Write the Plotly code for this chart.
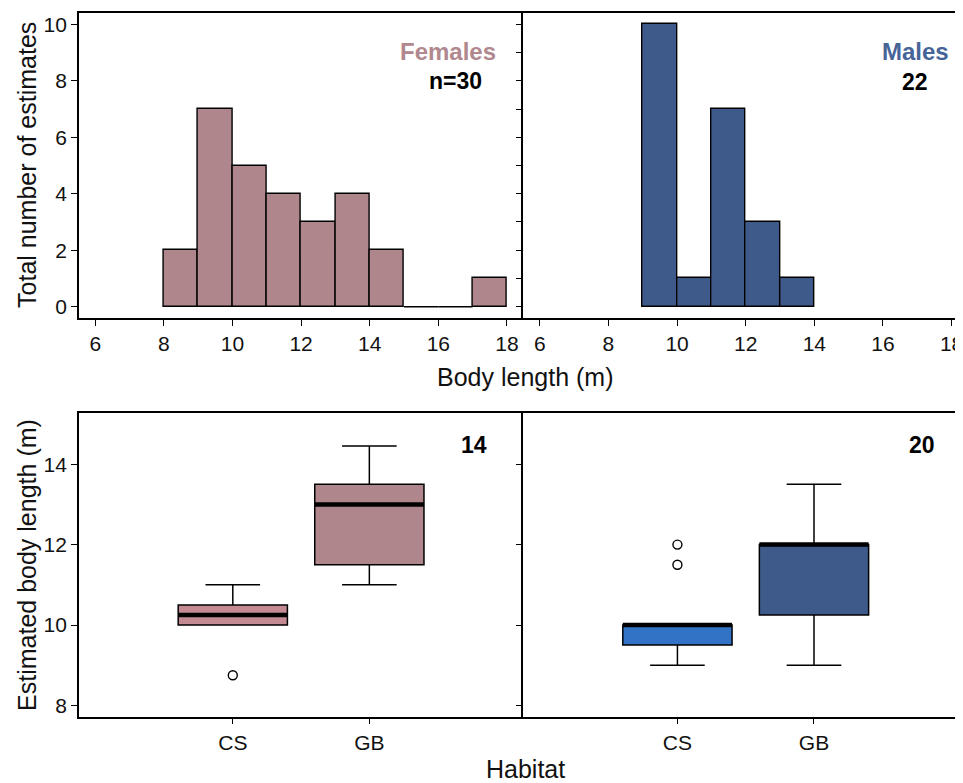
import plotly.graph_objects as go

# ---------------- data ----------------
bin_edges = [8, 9, 10, 11, 12, 13, 14, 15, 16, 17, 18]
female_counts = [2, 7, 5, 4, 3, 4, 2, 0, 0, 1]
male_counts = [0, 10, 1, 7, 3, 1, 0, 0, 0, 0]
female_n_label = "n=30"
male_n_label = "22"

habitats = ["CS", "GB"]
fem_q1 = [10.0, 11.5]
fem_median = [10.25, 13.0]
fem_q3 = [10.5, 13.5]
fem_low = [10.0, 11.0]
fem_high = [11.0, 14.45]
fem_outliers = [[8.75], []]
fem_box_label = "14"

male_q1 = [9.5, 10.25]
male_median = [10.0, 12.0]
male_q3 = [10.0, 12.0]
male_low = [9.0, 9.0]
male_high = [10.0, 13.5]
male_outliers = [[12.0, 11.5], []]
male_box_label = "20"

hist_ticks = [6, 8, 10, 12, 14, 16, 18]
count_ticks = [0, 2, 4, 6, 8, 10]
length_ticks = [8, 10, 12, 14]

# ---------------- style ----------------
FONT = "Liberation Sans, Arial, Helvetica, sans-serif"
FEM = "rgb(174,134,139)"
FEM_CS = "rgb(196,138,147)"
MAL = "rgb(62,90,138)"
MAL_CS = "rgb(50,115,197)"
FEM_TXT = "rgb(176,136,142)"
MAL_TXT = "rgb(70,100,152)"
OFF = 8  # page body margin
W, H = 963 - OFF, 783 - OFF


def px(x):
    return (x - OFF) / W


def py(y):
    return 1 - (y - OFF) / H


xL = [px(79), px(525)]
xR = [px(525), 1.0]
yT = [py(318), py(13)]
yB = [py(716.7), py(412.7)]

fig = go.Figure()

centers = [(bin_edges[i] + bin_edges[i + 1]) / 2 for i in range(len(bin_edges) - 1)]
widths = [bin_edges[i + 1] - bin_edges[i] for i in range(len(bin_edges) - 1)]


def add_hist(counts, color, xa, ya):
    xs = [c for c, n in zip(centers, counts) if n > 0]
    ys = [n for n in counts if n > 0]
    ws = [w for w, n in zip(widths, counts) if n > 0]
    fig.add_trace(go.Bar(x=xs, y=ys, width=ws, marker=dict(color=color, line=dict(color="black", width=1.4)),
                         xaxis=xa, yaxis=ya, showlegend=False, hoverinfo="skip"))
    # zero-count bins drawn as a flat line (only between occupied bins)
    first = next(i for i, n in enumerate(counts) if n > 0)
    last = max(i for i, n in enumerate(counts) if n > 0)
    for i in range(first, last + 1):
        if counts[i] == 0:
            fig.add_trace(go.Scatter(x=[bin_edges[i], bin_edges[i + 1]], y=[0, 0], mode="lines",
                                     line=dict(color="black", width=1.4), xaxis=xa, yaxis=ya,
                                     showlegend=False, hoverinfo="skip"))


add_hist(female_counts, FEM, "x", "y")
add_hist(male_counts, MAL, "x2", "y2")


def add_boxes(q1, med, q3, lo, hi, outs, colors, xa, ya):
    for i in range(len(habitats)):
        pos = i + 1
        fig.add_trace(go.Box(x=[pos], q1=[q1[i]], median=[med[i]], q3=[q3[i]], lowerfence=[lo[i]],
                             upperfence=[hi[i]], width=0.8, whiskerwidth=0.5, fillcolor=colors[i],
                             line=dict(color="black", width=1.5), boxpoints=False,
                             xaxis=xa, yaxis=ya, showlegend=False, hoverinfo="skip"))
        fig.add_trace(go.Scatter(x=[pos - 0.4, pos + 0.4], y=[med[i], med[i]], mode="lines",
                                 line=dict(color="black", width=4.5), xaxis=xa, yaxis=ya,
                                 showlegend=False, hoverinfo="skip"))
        if outs[i]:
            fig.add_trace(go.Scatter(x=[pos] * len(outs[i]), y=outs[i], mode="markers",
                                     marker=dict(symbol="circle-open", size=9, color="black",
                                                 line=dict(width=1.4)),
                                     xaxis=xa, yaxis=ya, showlegend=False, hoverinfo="skip"))


add_boxes(fem_q1, fem_median, fem_q3, fem_low, fem_high, fem_outliers, [FEM_CS, FEM], "x3", "y3")
add_boxes(male_q1, male_median, male_q3, male_low, male_high, male_outliers, [MAL_CS, MAL], "x4", "y4")

tickfont = dict(family=FONT, size=21, color="#111")
common = dict(showline=True, linecolor="black", linewidth=1.5, ticks="outside", ticklen=6,
              tickwidth=1.3, tickcolor="black", showgrid=False, zeroline=False, tickfont=tickfont,
              fixedrange=True)

fig.update_layout(
    width=W, height=H, margin=dict(l=0, r=0, t=0, b=0),
    paper_bgcolor="white", plot_bgcolor="white", boxmode="overlay", bargap=0,
    font=dict(family=FONT, color="#111"),
    xaxis=dict(domain=xL, anchor="y", range=[5.52, 18.48], tickvals=hist_ticks, mirror=True, **common),
    yaxis=dict(domain=yT, anchor="x", range=[-0.4, 10.4], tickvals=count_ticks, mirror=False, **common),
    xaxis2=dict(domain=xR, anchor="y2", range=[5.52, 5.52 + 438 / 34.42], tickvals=hist_ticks, mirror=True,
                ticklabeloverflow="allow", **common),
    yaxis2=dict(domain=yT, anchor="x2", range=[-0.4, 10.4], dtick=1, tick0=0, showticklabels=False, mirror=False, **common),
    xaxis3=dict(domain=xL, anchor="y3", range=[-0.128, 3.128], tickvals=[1, 2], ticktext=habitats, mirror=True, **common),
    yaxis3=dict(domain=yB, anchor="x3", range=[7.72, 15.28], tickvals=length_ticks, mirror=False, **common),
    xaxis4=dict(domain=xR, anchor="y4", range=[-0.128, -0.128 + 438 / 137.0], tickvals=[1, 2], ticktext=habitats, mirror=True, **common),
    yaxis4=dict(domain=yB, anchor="x4", range=[7.72, 15.28], tickvals=length_ticks, showticklabels=False, mirror=False, **common),
)


def ann(text, x, y, size, color="#111", bold=False, angle=0):
    fig.add_annotation(text=("<b>%s</b>" % text) if bold else text, x=px(x), y=py(y), xref="paper", yref="paper",
                       showarrow=False, textangle=angle, xanchor="center", yanchor="middle",
                       font=dict(family=FONT, size=size, color=color))


ann("Females", 449, 52, 24, FEM_TXT, True)
ann(female_n_label, 457, 81, 23, "black", True)
ann("Males", 918, 52, 24, MAL_TXT, True)
ann(male_n_label, 918, 82, 23, "black", True)
ann(fem_box_label, 475, 445, 23, "black", True)
ann(male_box_label, 925, 445, 23, "black", True)

ann("Total number of estimates", 27, 165, 25, angle=-90)
ann("Body length (m)", 527, 377, 25)
ann("Estimated body length (m)", 27, 565, 25, angle=-90)
ann("Habitat", 527, 769, 25)

fig.write_html("out.html", config={"displayModeBar": False})
